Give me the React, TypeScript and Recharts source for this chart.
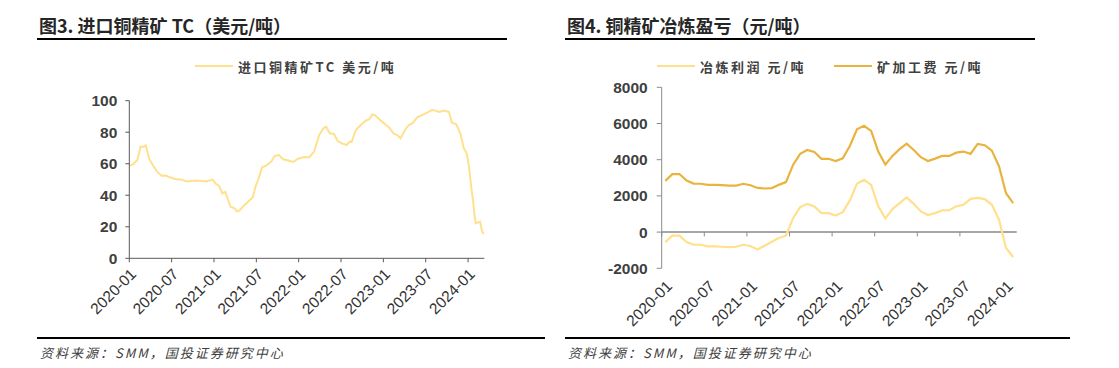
import { LineChart, Line, XAxis, YAxis, ReferenceLine } from 'recharts';

// 图3：进口铜精矿TC（美元/吨），周度
const tcDates = [
  '2020-01-01', '2020-01-18', '2020-02-05', '2020-02-19', '2020-03-01', '2020-03-11', '2020-03-25',
  '2020-04-13', '2020-04-29', '2020-05-18', '2020-06-07', '2020-06-23', '2020-07-14', '2020-08-13',
  '2020-09-04', '2020-10-16', '2020-11-07', '2020-11-28', '2020-12-25', '2021-01-10', '2021-01-22',
  '2021-02-07', '2021-02-19', '2021-03-01', '2021-03-11', '2021-03-28', '2021-04-08', '2021-04-19',
  '2021-05-04', '2021-05-25', '2021-06-16', '2021-06-28', '2021-07-11', '2021-07-25', '2021-08-13',
  '2021-09-04', '2021-09-19', '2021-10-07', '2021-10-25', '2021-11-13', '2021-12-07', '2021-12-28',
  '2022-01-25', '2022-02-16', '2022-03-07', '2022-03-28', '2022-04-16', '2022-04-28', '2022-05-13',
  '2022-06-01', '2022-06-16', '2022-07-04', '2022-07-25', '2022-08-08', '2022-08-16', '2022-09-04',
  '2022-09-25', '2022-10-16', '2022-11-01', '2022-11-14', '2022-11-25', '2022-12-13', '2023-01-04',
  '2023-01-25', '2023-02-16', '2023-03-01', '2023-03-14', '2023-04-03', '2023-04-19', '2023-05-04',
  '2023-05-25', '2023-06-16', '2023-07-07', '2023-07-28', '2023-08-13', '2023-08-28', '2023-09-19',
  '2023-10-10', '2023-10-22', '2023-11-10', '2023-11-28', '2023-12-13', '2023-12-25', '2024-01-04',
  '2024-01-16', '2024-01-22', '2024-01-28', '2024-02-04', '2024-02-22', '2024-03-01', '2024-03-10',
];
const tcValues = [
  58.6, 59.8, 62.4, 70.8, 70.8, 71.7, 63.4,
  58.6, 55, 52.4, 52.5, 51.4, 50.3, 49.9,
  48.8, 49.3, 49, 48.8, 49.9, 47.1, 45.9,
  41.2, 42.1, 37, 32.8, 31.7, 29.8, 30.2,
  32.8, 35.7, 38.7, 45.9, 50.7, 57.7, 58.8,
  61.3, 64.9, 65.5, 62.8, 62.2, 61.1, 63.2,
  64.3, 64.1, 67.7, 78.2, 82.5, 83.5, 79.3,
  78.9, 74.6, 72.9, 71.9, 74, 73.8, 81.4,
  84.6, 87.3, 88.2, 91.3, 90.9, 88.2, 85.6,
  83.1, 78.9, 78.2, 76.1, 81.4, 84.6, 85.6,
  89.4, 90.9, 92.4, 94.1, 93.7, 92.8, 93.7,
  92.8, 86, 85.2, 79.3, 69.8, 66.6, 59.2,
  43.3, 37, 27.5, 22.2, 23.3, 16.9, 15.4,
];
const tcTickLabels = ['2020-01', '2020-07', '2021-01', '2021-07', '2022-01', '2022-07', '2023-01', '2023-07', '2024-01'];

// 图4：铜精矿冶炼盈亏（元/吨），月度
const months = [
  '2020-01', '2020-02', '2020-03', '2020-04', '2020-05', '2020-06', '2020-07', '2020-08', '2020-09', '2020-10', '2020-11', '2020-12',
  '2021-01', '2021-02', '2021-03', '2021-04', '2021-05', '2021-06', '2021-07', '2021-08', '2021-09', '2021-10', '2021-11', '2021-12',
  '2022-01', '2022-02', '2022-03', '2022-04', '2022-05', '2022-06', '2022-07', '2022-08', '2022-09', '2022-10', '2022-11', '2022-12',
  '2023-01', '2023-02', '2023-03', '2023-04', '2023-05', '2023-06', '2023-07', '2023-08', '2023-09', '2023-10', '2023-11', '2023-12',
  '2024-01', '2024-02',
];
const smeltProfit = [
  -550, -200, -200, -550, -700, -700, -790, -790, -810, -830, -810, -700,
  -770, -960, -750, -530, -330, -200, 770, 1380, 1560, 1420, 1050, 1050,
  920, 1100, 1750, 2670, 2890, 2610, 1420, 760, 1270, 1600, 1920, 1560,
  1140, 940, 1050, 1200, 1210, 1420, 1510, 1840, 1890, 1820, 1510, 700,
  -880, -1380,
];
const processFee = [
  2830, 3200, 3210, 2850, 2680, 2670, 2610, 2610, 2590, 2570, 2570, 2670,
  2590, 2440, 2410, 2430, 2610, 2760, 3710, 4320, 4540, 4430, 4050, 4050,
  3930, 4080, 4760, 5680, 5870, 5590, 4450, 3730, 4210, 4580, 4890, 4540,
  4140, 3930, 4060, 4210, 4210, 4390, 4450, 4320, 4870, 4800, 4500, 3640,
  2150, 1600,
];
const monthTicks = [0, 6, 12, 18, 24, 30, 36, 42, 48];

const monthIndex = (d: string) => {
  const [y, m, day] = d.split('-').map(Number);
  return (y - 2020) * 12 + (m - 1) + (day - 1) / 30;
};

const tcData = tcDates.map((d, i) => ({ m: monthIndex(d), v: tcValues[i] }));
const pnlData = months.map((label, i) => ({ x: i + 0.5, label, profit: smeltProfit[i], fee: processFee[i] }));

const LIGHT = '#FFE08C';
const GOLD = '#E9B43E';
const numFont = '"Liberation Sans", Arial, sans-serif';
const cjkFont = '"Noto Sans CJK SC", sans-serif';

const yTick = { fontSize: 15.5, fontWeight: 700, fill: '#404040', fontFamily: numFont };
const xTick = { fontSize: 15.5, fill: '#333', fontFamily: numFont };

function Title({ left, text }: { left: number; text: string }) {
  return (
    <>
      <div style={{ position: 'absolute', left, top: 14, fontFamily: cjkFont, fontWeight: 700, fontSize: 18, lineHeight: '22px', color: '#262626', whiteSpace: 'nowrap' }}>
        {text}
      </div>
      <div style={{ position: 'absolute', left: left - 2, top: 38, width: 470, height: 2, background: '#000' }} />
    </>
  );
}

function Footer({ left, width }: { left: number; width: number }) {
  return (
    <>
      <div style={{ position: 'absolute', left, top: 337, width, height: 2, background: '#000' }} />
      <div style={{ position: 'absolute', left: left + 3, top: 343, fontFamily: cjkFont, fontStyle: 'italic', fontSize: 13, letterSpacing: 2, color: '#404040', whiteSpace: 'nowrap' }}>
        资料来源：SMM，国投证券研究中心
      </div>
    </>
  );
}

function LegendItem({ left, color, text }: { left: number; color: string; text: string }) {
  return (
    <div style={{ position: 'absolute', left, top: 56, height: 20, display: 'flex', alignItems: 'center', whiteSpace: 'nowrap' }}>
      <span style={{ display: 'inline-block', width: 38, height: 2, background: color, marginRight: 5 }} />
      <span style={{ fontFamily: cjkFont, fontWeight: 700, fontSize: 13, letterSpacing: 2.5, color: '#404040' }}>{text}</span>
    </div>
  );
}

export default function App() {
  return (
    <div style={{ position: 'fixed', left: 0, top: 0, width: 1119, height: 368, background: '#fff', overflow: 'hidden' }}>
      <Title left={39} text="图3. 进口铜精矿 TC（美元/吨）" />
      <Title left={567} text="图4. 铜精矿冶炼盈亏（元/吨）" />

      <LegendItem left={195} color={LIGHT} text="进口铜精矿TC 美元/吨" />
      <LegendItem left={657} color={LIGHT} text="冶炼利润 元/吨" />
      <LegendItem left={834} color={GOLD} text="矿加工费 元/吨" />

      <div style={{ position: 'absolute', left: 0, top: 0 }}>
        <LineChart width={560} height={340} data={tcData} margin={{ top: 100.7, right: 75.7, left: 69.3, bottom: 11.7 }}>
          <XAxis
            type="number"
            dataKey="m"
            domain={[0, 50.3]}
            ticks={monthTicks}
            interval={0}
            tickFormatter={(v: number) => tcTickLabels[Math.round(v / 6)]}
            angle={-45}
            textAnchor="end"
            height={70}
            tick={xTick}
            tickSize={4}
            tickMargin={5}
            stroke="#595959"
            allowDataOverflow
          />
          <YAxis
            domain={[0, 100]}
            ticks={[0, 20, 40, 60, 80, 100]}
            width={60}
            tick={yTick}
            tickSize={4}
            tickMargin={8}
            stroke="#595959"
          />
          <Line type="linear" dataKey="v" stroke={LIGHT} strokeWidth={2} dot={false} isAnimationActive={false} />
        </LineChart>
      </div>

      <div style={{ position: 'absolute', left: 560, top: 0 }}>
        <LineChart width={559} height={340} data={pnlData} margin={{ top: 87.3, right: 102.3, left: 41.7, bottom: 6.7 }}>
          <XAxis
            type="number"
            dataKey="x"
            domain={[0, 50]}
            ticks={monthTicks.map((t) => t + 0.5)}
            interval={0}
            tickFormatter={(v: number) => months[Math.round(v - 0.5)]}
            angle={-45}
            textAnchor="end"
            height={65}
            tick={xTick}
            axisLine={false}
            tickLine={false}
            tickSize={4}
            tickMargin={7}
          />
          <YAxis
            domain={[-2000, 8000]}
            ticks={[-2000, 0, 2000, 4000, 6000, 8000]}
            width={60}
            tick={yTick}
            tickSize={5}
            tickMargin={9}
            stroke="#8c8c8c"
          />
          <ReferenceLine y={0} stroke="#a6a6a6" strokeWidth={2} />
          {monthTicks.map((t) => (
            <ReferenceLine key={t} segment={[{ x: t, y: 0 }, { x: t, y: -240 }]} stroke="#8c8c8c" />
          ))}
          <Line type="linear" dataKey="profit" stroke={LIGHT} strokeWidth={2.2} dot={false} isAnimationActive={false} />
          <Line type="linear" dataKey="fee" stroke={GOLD} strokeWidth={2.2} dot={false} isAnimationActive={false} />
        </LineChart>
      </div>

      <Footer left={37} width={508} />
      <Footer left={565} width={505} />
    </div>
  );
}
